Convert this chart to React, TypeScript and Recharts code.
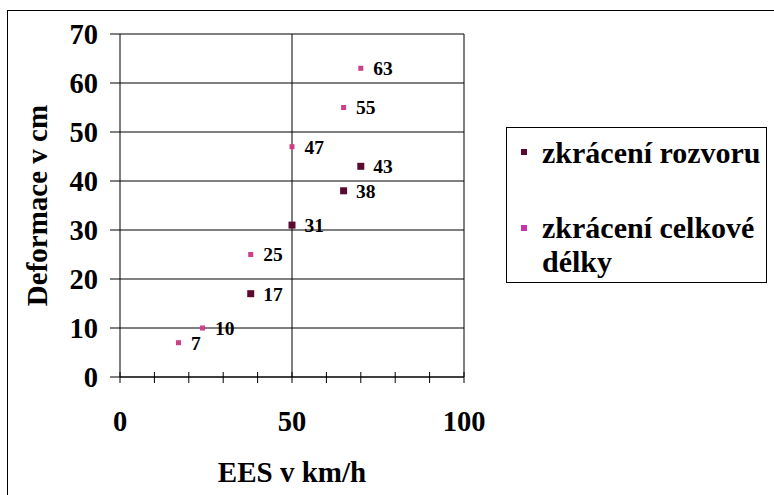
import React from 'react';
import {
  ScatterChart,
  Scatter,
  XAxis,
  YAxis,
  CartesianGrid,
  ReferenceLine,
  LabelList,
  Legend,
  Label,
} from 'recharts';

// ---- data ----
const rozvorX = [38, 50, 65, 70];
const rozvorY = [17, 31, 38, 43];
const celkovaX = [17, 24, 38, 50, 65, 70];
const celkovaY = [7, 10, 25, 47, 55, 63];
const seriesNames = ['zkrácení rozvoru', 'zkrácení celkové délky'];
const legendLines2 = ['zkrácení celkové', 'délky'];
const xTicks = [0, 10, 20, 30, 40, 50, 60, 70, 80, 90, 100];
const xTickLabels = [0, 50, 100];
const yTicks = [0, 10, 20, 30, 40, 50, 60, 70];
const xTitle = 'EES v km/h';
const yTitle = 'Deformace v cm';

const rozvorData = rozvorX.map((x, i) => ({ x, y: rozvorY[i] }));
const celkovaData = celkovaX.map((x, i) => ({ x, y: celkovaY[i] }));

const COLOR1 = '#5a0a30';
const COLOR2 = '#cf3f86';
const FONT = "'Liberation Serif', 'Times New Roman', serif";

const XTick = (props: any) => {
  const { x, y, payload } = props;
  return (
    <g>
      <line x1={x} x2={x} y1={y - 5} y2={y + 6} stroke="#000" strokeWidth={1} />
      {xTickLabels.includes(payload.value) && (
        <text
          x={x}
          y={y + 44}
          dy="0.355em"
          textAnchor="middle"
          style={{ fontFamily: FONT, fontWeight: 700, fontSize: 28.5, fill: '#000' }}
        >
          {payload.value}
        </text>
      )}
    </g>
  );
};

const makeSquare = (color: string, side: number) => (props: any) => {
  const { cx, cy } = props;
  return <rect x={cx - side / 2} y={cy - side / 2} width={side} height={side} fill={color} />;
};

const YTitle = (props: any) => {
  const { viewBox } = props;
  const cx = viewBox.x + 37;
  const cy = viewBox.y + viewBox.height / 2;
  return (
    <text
      x={cx}
      y={cy}
      dy="0.35em"
      textAnchor="middle"
      transform={`rotate(-90, ${cx}, ${cy})`}
      style={{ fontFamily: FONT, fontWeight: 700, fontSize: 29, fill: '#000' }}
    >
      {yTitle}
    </text>
  );
};

const LegendBox = () => {
  const textStyle: React.CSSProperties = {
    position: 'absolute',
    left: 35,
    fontFamily: FONT,
    fontWeight: 700,
    fontSize: 30,
    lineHeight: '34px',
    color: '#000',
    whiteSpace: 'nowrap',
  };
  return (
    <div
      style={{
        position: 'relative',
        width: 261,
        height: 156,
        border: '1px solid #000',
        boxSizing: 'border-box',
        background: '#fff',
      }}
    >
      <div style={{ position: 'absolute', left: 14, top: 21, width: 6, height: 6, background: COLOR1 }} />
      <div style={{ ...textStyle, top: 8 }}>{seriesNames[0]}</div>
      <div style={{ position: 'absolute', left: 14, top: 97, width: 6, height: 6, background: '#c932a8' }} />
      <div style={{ ...textStyle, top: 83 }}>{legendLines2[0]}</div>
      <div style={{ ...textStyle, top: 117 }}>{legendLines2[1]}</div>
    </div>
  );
};

const labelStyle = {
  fontFamily: FONT,
  fontWeight: 700,
  fontSize: 19.5,
  fill: '#000',
};

export default function App() {
  return (
    <div
      style={{
        position: 'absolute',
        left: 0,
        top: 0,
        width: 774,
        height: 495,
        overflow: 'hidden',
        background: '#fff',
      }}
    >
      <div
        style={{
          position: 'absolute',
          left: 7,
          top: 10,
          width: 800,
          height: 520,
          border: '1px solid #000',
          boxSizing: 'border-box',
        }}
      />
      <ScatterChart
        width={774}
        height={495}
        margin={{ top: 34, right: 310, bottom: 0, left: 0 }}
        style={{ position: 'absolute', left: 0, top: 0 }}
      >
        <CartesianGrid vertical={false} stroke="#000" strokeWidth={1} />
        <ReferenceLine x={50} stroke="#000" strokeWidth={1} />
        <ReferenceLine x={100} stroke="#000" strokeWidth={1} />
        <XAxis
          type="number"
          dataKey="x"
          domain={[0, 100]}
          ticks={xTicks}
          interval={0}
          height={118}
          tickSize={0}
          tickMargin={0}
          tickLine={false}
          axisLine={{ stroke: '#000', strokeWidth: 1 }}
          tick={<XTick />}
        >
          <Label
            value={xTitle}
            position="insideBottom"
            offset={13}
            style={{ fontFamily: FONT, fontWeight: 700, fontSize: 29, fill: '#000' }}
          />
        </XAxis>
        <YAxis
          type="number"
          dataKey="y"
          domain={[0, 70]}
          ticks={yTicks}
          interval={0}
          width={120}
          tickSize={10}
          tickMargin={12}
          tickLine={{ stroke: '#000', strokeWidth: 1 }}
          axisLine={{ stroke: '#000', strokeWidth: 1 }}
          tick={{ style: { fontFamily: FONT, fontWeight: 700, fontSize: 28.5, fill: '#000' } }}
        >
          <Label content={<YTitle />} />
        </YAxis>
        <Legend
          layout="vertical"
          align="center"
          verticalAlign="middle"
          wrapperStyle={{ left: 506, top: 127, width: 261, height: 156 }}
          content={() => <LegendBox />}
        />
        <Scatter
          name={seriesNames[0]}
          data={rozvorData}
          fill={COLOR1}
          shape={makeSquare(COLOR1, 7)}
          isAnimationActive={false}
        >
          <LabelList dataKey="y" position="right" offset={8} style={labelStyle} />
        </Scatter>
        <Scatter
          name={seriesNames[1]}
          data={celkovaData}
          fill={COLOR2}
          shape={makeSquare(COLOR2, 5)}
          isAnimationActive={false}
        >
          <LabelList dataKey="y" position="right" offset={8} style={labelStyle} />
        </Scatter>
      </ScatterChart>
    </div>
  );
}
